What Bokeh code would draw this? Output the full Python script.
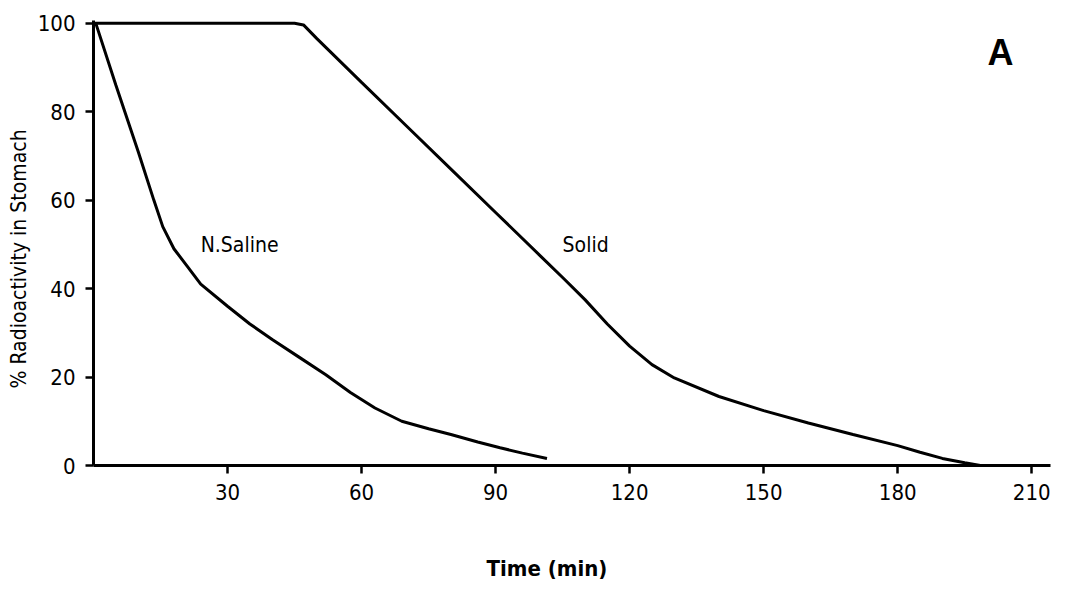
import numpy as np
from bokeh.plotting import figure
from bokeh.models import Label, FixedTicker, Title
from bokeh.embed import file_html
from bokeh.resources import INLINE

# Data (time in min, % radioactivity in stomach)
saline_t = [0.5, 5, 10, 13.5, 15.5, 18, 21, 24, 30, 35, 40, 46, 52, 57.5, 63, 69, 75, 80, 86, 91, 96, 101.5]
saline_y = [100, 86, 71, 60, 54, 49, 45, 41, 36, 32, 28.5, 24.5, 20.5, 16.5, 13, 10, 8.3, 7, 5.3, 4, 2.8, 1.6]

solid_t = [0, 10, 20, 30, 40, 45, 47, 50, 60, 70, 80, 90, 100, 105, 110, 115, 120, 125, 130, 140, 150, 160, 170, 180, 185, 190, 195, 198.5]
solid_y = [100, 100, 100, 100, 100, 100, 99.6, 96.5, 86.6, 76.8, 67, 57.2, 47.4, 42.5, 37.5, 32, 27, 22.8, 19.8, 15.6, 12.4, 9.6, 7, 4.5, 3, 1.6, 0.6, 0]

x_ticks = [30, 60, 90, 120, 150, 180, 210]
y_ticks = [0, 20, 40, 60, 80, 100]

FONT = "DejaVu Sans Condensed, Roboto, sans-serif"

p = figure(frame_width=957, frame_height=445,
           x_range=(0, 214.2), y_range=(0, 100.6),
           min_border_left=93, min_border_right=6, min_border_top=20, min_border_bottom=126,
           output_backend="svg", toolbar_location=None)
p.outline_line_color = None
p.grid.grid_line_color = None
p.background_fill_color = "white"
p.border_fill_color = "white"

p.line(saline_t, saline_y, line_color="black", line_width=3)
p.line(solid_t, solid_y, line_color="black", line_width=3)

for ax in (p.xaxis[0], p.yaxis[0]):
    ax.axis_line_width = 3
    ax.axis_line_color = "black"
    ax.major_tick_line_width = 2.5
    ax.major_tick_line_color = "black"
    ax.minor_tick_line_color = None
    ax.major_tick_in = 0
    ax.major_tick_out = 8
    ax.major_label_text_font = FONT
    ax.major_label_text_font_size = "22px"
    ax.major_label_text_color = "black"

p.xaxis[0].ticker = FixedTicker(ticks=x_ticks)
p.yaxis[0].ticker = FixedTicker(ticks=y_ticks)
p.xaxis[0].major_label_standoff = 10
p.yaxis[0].major_label_standoff = 10

p.add_layout(Title(text="Time (min)", align="left", offset=393, standoff=103,
                   text_font=FONT, text_font_size="22px", text_font_style="bold",
                   text_color="black"), "below")
p.add_layout(Title(text="% Radioactivity in Stomach", align="left", offset=77, standoff=8,
                   text_font=FONT, text_font_size="21px", text_font_style="normal",
                   text_color="black"), "left")

p.add_layout(Label(x=24, y=49.8, text="N.Saline", text_font=FONT, text_font_size="21px",
                   text_baseline="middle", text_align="left", text_color="black"))
p.add_layout(Label(x=105, y=49.8, text="Solid", text_font=FONT, text_font_size="21px",
                   text_baseline="middle", text_align="left", text_color="black"))
p.add_layout(Label(x=203, y=93.4, text="A", text_font="Liberation Sans", text_font_size="36px",
                   text_font_style="bold", text_baseline="middle", text_align="center", text_color="black"))

open("out.html", "w").write(file_html(p, INLINE))
